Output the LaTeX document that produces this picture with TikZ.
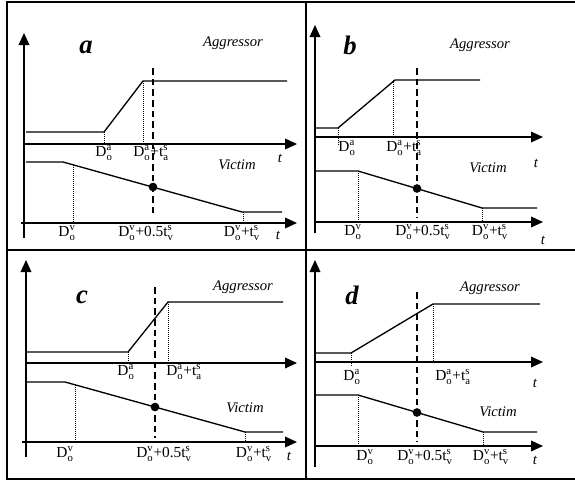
\documentclass[tikz,border=0pt]{standalone}
\usepackage{fontspec}
\setmainfont{Liberation Serif}
\usetikzlibrary{arrows.meta}
\tikzset{
  axis/.style={line width=1pt, -{Triangle[length=9pt,width=8pt]}},
  signal/.style={line width=1pt},
  guide/.style={densely dotted, line width=0.5pt},
  midline/.style={line width=1pt, dash pattern=on 5pt off 3pt},
  crossdot/.style={circle, fill, inner sep=0pt, minimum size=6.5pt},
  lbl/.style={font=\fontsize{11.5}{13}\selectfont, inner sep=0pt},
  tlbl/.style={font=\fontsize{11}{12}\selectfont\itshape, inner sep=0pt},
  wave/.style={font=\fontsize{11}{13}\selectfont\itshape, inner sep=0pt},
  panel/.style={font=\fontsize{20}{22}\selectfont\bfseries\itshape, inner sep=0pt}
}
\newcommand{\Do}[1]{D$_{\mathrm{o}}^{\mathrm{#1}}$}
\newcommand{\ts}[1]{t$_{\mathrm{#1}}^{\mathrm{s}}$}

\begin{document}
\begin{tikzpicture}[x=0.75pt,y=-0.75pt]
\useasboundingbox (0,0) rectangle (575,482);

% Frame and panel dividers
\draw[line width=1.5pt] (575,2) -- (7,2) -- (7,479) -- (575,479);
\draw[line width=1.5pt] (306,2) -- (306,479);
\draw[line width=1.5pt] (7,250) -- (575,250);

% Panel a
\draw[axis] (24,238) -- (24,33);
\draw[axis] (23,144) -- (297,144);
\draw[axis] (21,223) -- (297,223);
\draw[signal] (26,132) -- (104,132) -- (143,81) -- (287,81);
\draw[signal] (26,162) -- (63,162) -- (242,212) -- (282,212);
\draw[guide] (104,132) -- (104,144);
\draw[guide] (143,81) -- (143,144);
\draw[guide] (73,165) -- (73,223);
\draw[guide] (243,212) -- (243,223);
\draw[midline] (153,68) -- (153,217);
\node[crossdot] (dotA) at (153,187) {};
\node[panel] (labA) at (86,47) {a};
\node[wave] (aggA) at (233,43) {Aggressor};
\node[wave] (vicA) at (237,165) {Victim};
\node[tlbl] (tA1) at (280,158) {t};
\node[lbl] (daA) at (104,153) {\Do{a}};
\node[lbl] (dasA) at (151,153) {\Do{a}+\ts{a}};
\node[lbl] (dvA) at (67,233) {\Do{v}};
\node[lbl] (dvhA) at (146,233) {\Do{v}+0.5\ts{v}};
\node[lbl] (dvsA) at (242,233) {\Do{v}+\ts{v}};
\node[tlbl] (tA2) at (278,235) {t};

% Panel b
\draw[axis] (315,233) -- (315,25);
\draw[axis] (315,137) -- (543,137);
\draw[axis] (315,222) -- (543,222);
\draw[signal] (315,128) -- (338,128) -- (395,80) -- (480,80);
\draw[signal] (315,171) -- (358,171) -- (482,208) -- (537,208);
\draw[guide] (338,128) -- (338,145);
\draw[guide] (393,80) -- (393,137);
\draw[guide] (358,171) -- (358,222);
\draw[guide] (482,208) -- (482,222);
\draw[midline] (417,68) -- (417,218);
\node[crossdot] (dotB) at (417,188.5) {};
\node[panel] (labB) at (350,45) {b};
\node[wave] (aggB) at (480,45) {Aggressor};
\node[wave] (vicB) at (488,168) {Victim};
\node[tlbl] (tB1) at (536,163) {t};
\node[lbl] (daB) at (347,148) {\Do{a}};
\node[lbl] (dasB) at (404,148) {\Do{a}+\ts{a}};
\node[lbl] (dvB) at (353,232) {\Do{v}};
\node[lbl] (dvhB) at (423,232) {\Do{v}+0.5\ts{v}};
\node[lbl] (dvsB) at (490,232) {\Do{v}+\ts{v}};
\node[tlbl] (tB2) at (543,240) {t};

% Panel c
\draw[axis] (26,457) -- (26,260);
\draw[axis] (27,363) -- (297,363);
\draw[axis] (22,442) -- (297,442);
\draw[signal] (27,352) -- (128,352) -- (168,302) -- (283,302);
\draw[signal] (27,382) -- (65,382) -- (245,432) -- (283,432);
\draw[guide] (128,352) -- (128,363);
\draw[guide] (168,302) -- (168,363);
\draw[guide] (75,385) -- (75,442);
\draw[guide] (245,432) -- (245,442);
\draw[midline] (155,287) -- (155,438);
\node[crossdot] (dotC) at (155,407) {};
\node[panel] (labC) at (82,297) {c};
\node[wave] (aggC) at (243,287) {Aggressor};
\node[wave] (vicC) at (245,408) {Victim};
\node[lbl] (daC) at (126,372) {\Do{a}};
\node[lbl] (dasC) at (184,372) {\Do{a}+\ts{a}};
\node[lbl] (dvC) at (65,454) {\Do{v}};
\node[lbl] (dvhC) at (164,454) {\Do{v}+0.5\ts{v}};
\node[lbl] (dvsC) at (254,454) {\Do{v}+\ts{v}};
\node[tlbl] (tC2) at (289,456) {t};

% Panel d
\draw[axis] (315,467) -- (315,260);
\draw[axis] (315,362) -- (543,362);
\draw[axis] (315,446) -- (543,446);
\draw[signal] (315,353) -- (351,353) -- (433,304) -- (540,304);
\draw[signal] (315,395) -- (358,395) -- (483,432) -- (537,432);
\draw[guide] (351,353) -- (351,367);
\draw[guide] (433,304) -- (433,362);
\draw[guide] (358,395) -- (358,446);
\draw[guide] (483,432) -- (483,446);
\draw[midline] (417,292) -- (417,442);
\node[crossdot] (dotD) at (417,412.5) {};
\node[panel] (labD) at (352,295) {d};
\node[wave] (aggD) at (490,288) {Aggressor};
\node[wave] (vicD) at (498,412) {Victim};
\node[tlbl] (tD1) at (535,383) {t};
\node[lbl] (daD) at (352,377) {\Do{a}};
\node[lbl] (dasD) at (453,377) {\Do{a}+\ts{a}};
\node[lbl] (dvD) at (365,457) {\Do{v}};
\node[lbl] (dvhD) at (425,457) {\Do{v}+0.5\ts{v}};
\node[lbl] (dvsD) at (491,457) {\Do{v}+\ts{v}};
\node[tlbl] (tD2) at (535,460) {t};

\end{tikzpicture}
\end{document}
